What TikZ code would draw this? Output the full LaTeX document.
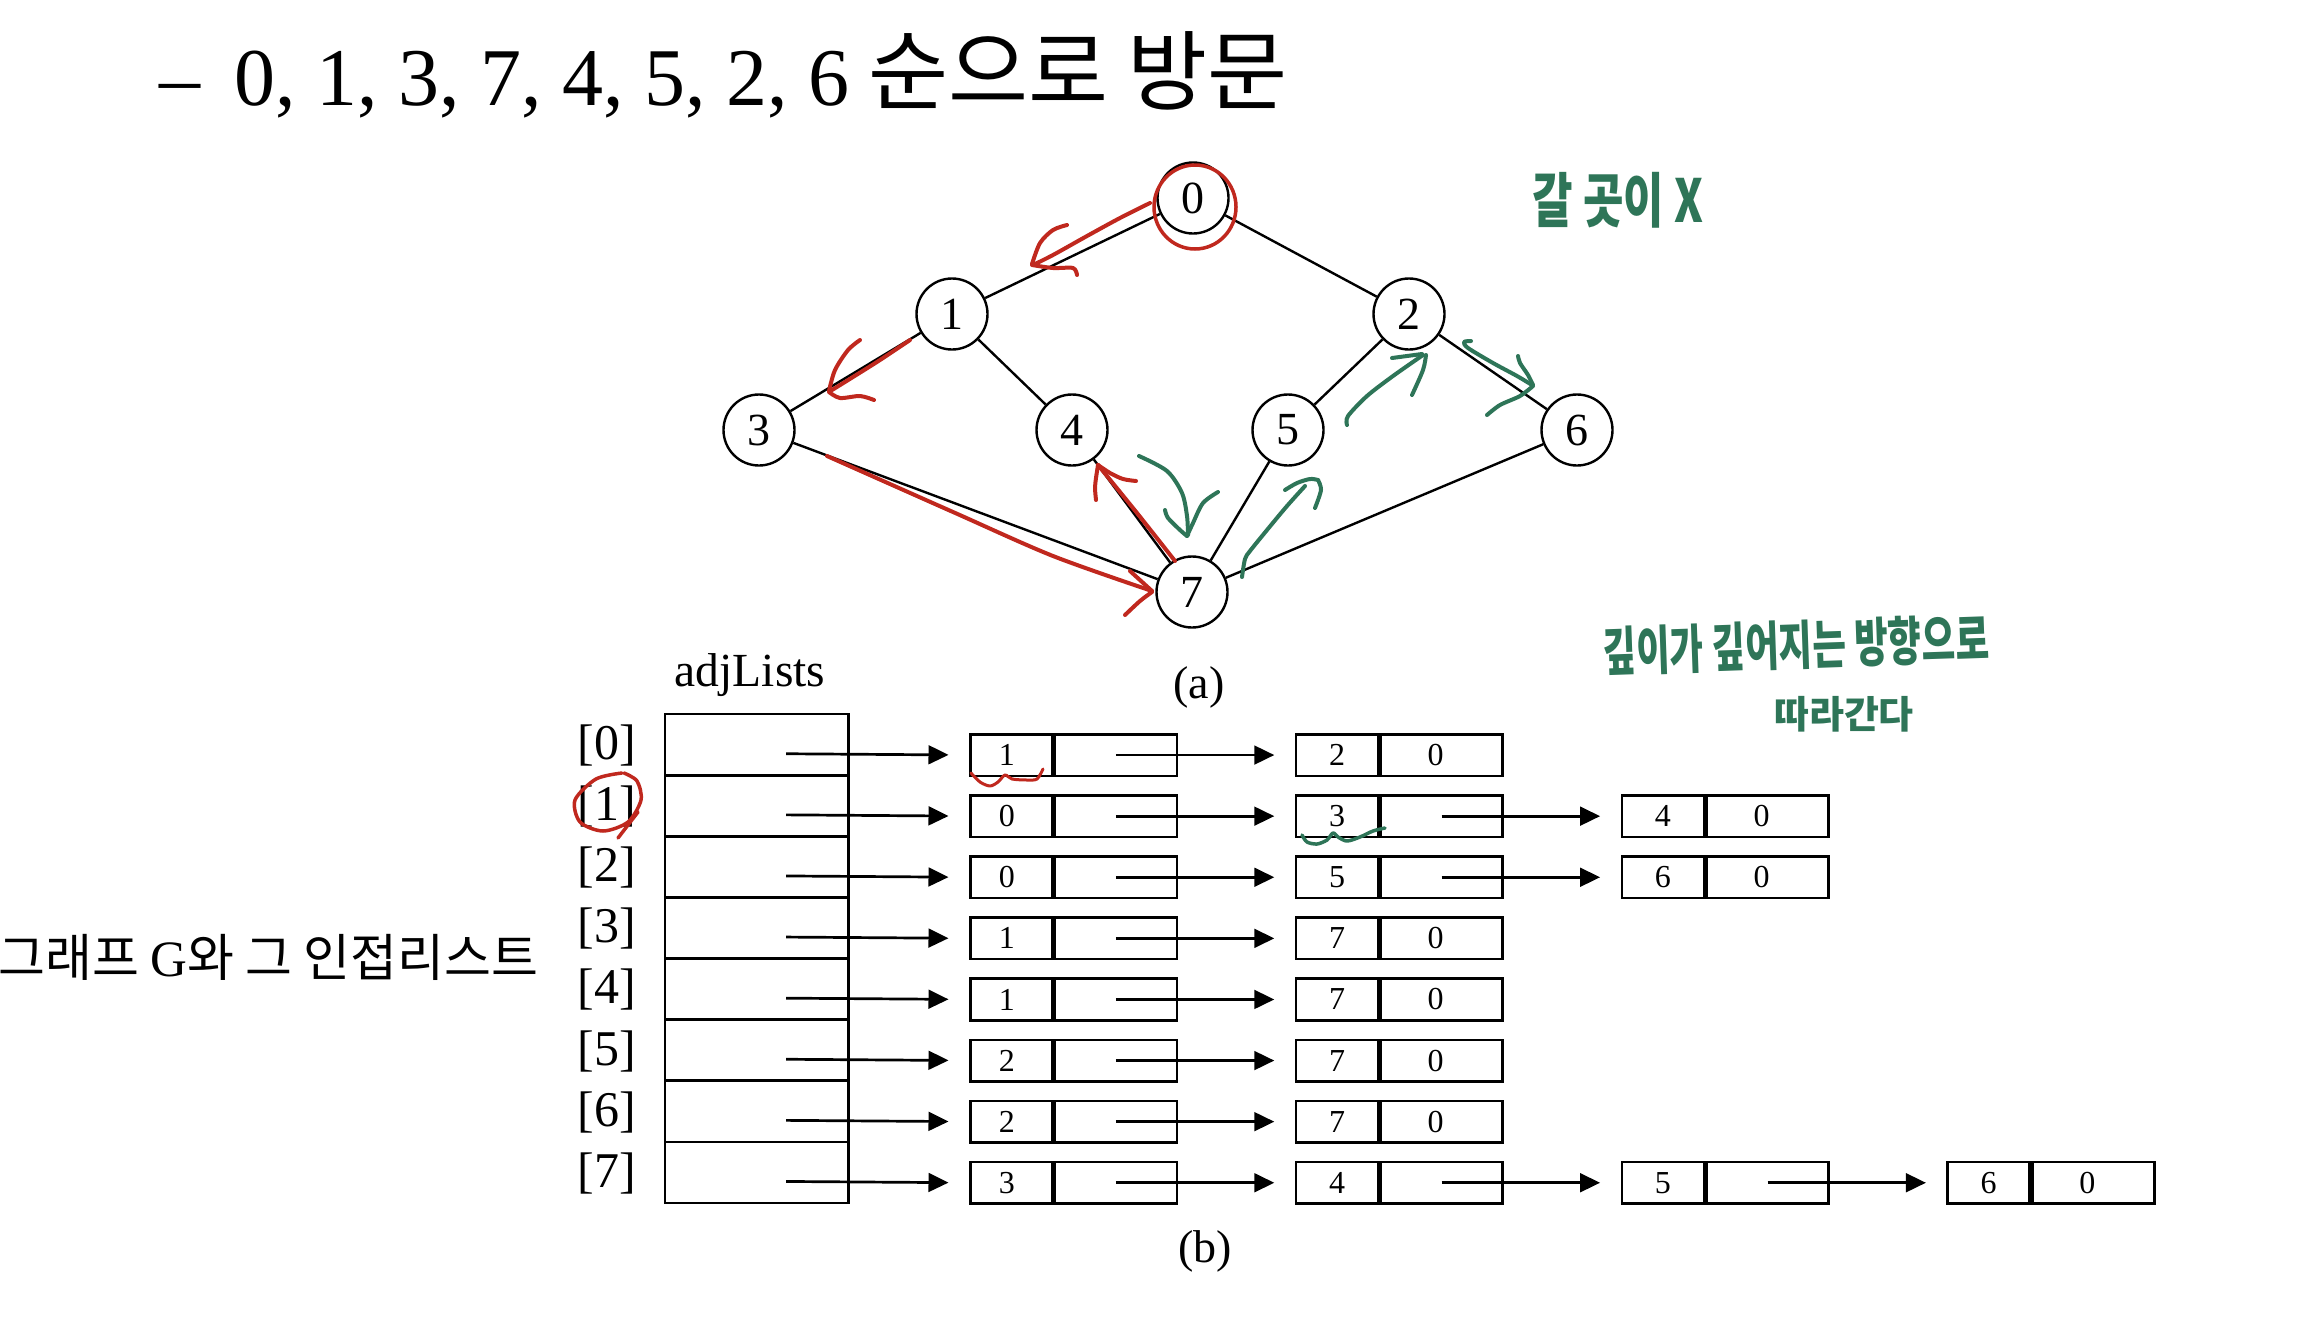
\documentclass[tikz,border=0pt]{standalone}
\usepackage{fontspec}
\usepackage{graphicx}
\setmainfont{Liberation Serif}
\newfontfamily\kor{Noto Sans CJK KR}
\usetikzlibrary{arrows.meta}
\definecolor{penred}{RGB}{192,40,30}
\definecolor{pengreen}{RGB}{46,117,88}
\newcommand\dg[1]{\raisebox{-4pt}{#1}}
\newcommand\vd[1]{\raisebox{-4.5pt}{#1}}
\begin{document}
\begin{tikzpicture}[x=1pt,y=-1pt,
  vtx/.style={circle,draw,line width=2.4pt,minimum size=71pt,inner sep=0pt,font=\fontsize{46}{46}\selectfont},
  edge/.style={line width=2.4pt},
  cell/.style={draw,line width=2.6pt,minimum width=183.5pt,minimum height=61.1pt,inner sep=0pt,anchor=north west},
  dfield/.style={draw,line width=2.6pt,minimum width=82pt,minimum height=41.5pt,inner sep=0pt,anchor=north west,font=\fontsize{32}{32}\selectfont},
  pfield/.style={draw,line width=2.6pt,minimum width=122pt,minimum height=41.5pt,inner sep=0pt,anchor=west,font=\fontsize{32}{32}\selectfont},
  ptr/.style={line width=2.7pt,-{Triangle[length=20pt,width=18.7pt]},shorten >=20.5pt},
  redpen/.style={draw=penred,line width=4pt,line cap=round,line join=round},
  greenpen/.style={draw=pengreen,line width=4pt,line cap=round,line join=round},
  hand/.style={text=pengreen,inner sep=0pt}
]
\fill[white] (0,0) rectangle (2297,1323);
\useasboundingbox (0,0) rectangle (2297,1323);

% title
\node[anchor=base west,inner sep=0pt,font=\fontsize{82}{82}\selectfont] (dash) at (159,105) {–};
\node[anchor=base west,inner sep=0pt,font=\fontsize{82}{82}\selectfont] (seq) at (234,105) {0, 1, 3, 7, 4, 5, 2, 6};
\node[anchor=base west,inner sep=0pt,font=\kor\fontsize{87}{87}\selectfont] (ktitle) at (868,103) {순으로 방문};

% left label
\node[anchor=base west,inner sep=0pt,font=\kor\fontsize{51}{51}\selectfont] (glabel) at (-2,976) {그래프 {\rmfamily G}와 그 인접리스트};

\begin{scope}[yshift=-3pt]
% graph
\node[vtx] (v0) at (1193,195) {\vd{0}};
\node[vtx] (v1) at (952,311) {\vd{1}};
\node[vtx] (v2) at (1409,311) {\vd{2}};
\node[vtx] (v3) at (759,427) {\vd{3}};
\node[vtx] (v4) at (1072,427) {\vd{4}};
\node[vtx] (v5) at (1288,427) {\vd{5}};
\node[vtx] (v6) at (1577,427) {\vd{6}};
\node[vtx] (v7) at (1192,589) {\vd{7}};
\draw[edge] (v0) -- (v1);
\draw[edge] (v0) -- (v2);
\draw[edge] (v1) -- (v3);
\draw[edge] (v1) -- (v4);
\draw[edge] (v2) -- (v5);
\draw[edge] (v2) -- (v6);
\draw[edge] (v3) -- (v7);
\draw[edge] (v4) -- (v7);
\draw[edge] (v5) -- (v7);
\draw[edge] (v6) -- (v7);

% red annotations on graph
\draw[redpen,line width=3.5pt] (1195,204) ellipse [x radius=41pt, y radius=42pt];
\draw[redpen] plot[smooth] coordinates {(1150,200) (1120,215) (1087,233) (1053,252) (1033,262)};
\draw[redpen] plot[smooth] coordinates {(1067,222) (1053,227) (1040,240) (1032,261)};
\draw[redpen] plot[smooth] coordinates {(1032,262) (1053,265) (1073,265) (1077,272)};
\draw[redpen] plot[smooth] coordinates {(910,337) (880,357) (853,374) (832,387)};
\draw[redpen] plot[smooth] coordinates {(860,337) (848,347) (835,367) (829,388)};
\draw[redpen] plot[smooth] coordinates {(829,389) (840,395) (860,393) (874,397)};
\draw[redpen] plot[smooth] coordinates {(827,453) (953,509) (1053,553) (1152,588)};
\draw[redpen] (1130,568) -- (1152,588);
\draw[redpen] plot[smooth] coordinates {(1152,589) (1140,598) (1125,612)};
\draw[redpen] plot[smooth] coordinates {(1175,558) (1137,510) (1098,462)};
\draw[redpen] plot[smooth] coordinates {(1098,462) (1096,475) (1095,485) (1096,497)};
\draw[redpen] plot[smooth] coordinates {(1098,462) (1110,470) (1123,476) (1136,478)};

% green annotations on graph
\draw[greenpen] plot[smooth] coordinates {(1139,453) (1167,468) (1182,490) (1187,513) (1188,532)};
\draw[greenpen] plot[smooth] coordinates {(1165,507) (1168,515) (1180,527) (1187,533)};
\draw[greenpen] plot[smooth] coordinates {(1187,533) (1193,520) (1203,500) (1218,489)};
\draw[greenpen] plot[smooth] coordinates {(1242,574) (1245,556) (1250,548) (1267,527) (1287,503) (1305,483)};
\draw[greenpen] plot[smooth] coordinates {(1285,487) (1297,480) (1310,476) (1318,477)};
\draw[greenpen] plot[smooth] coordinates {(1318,477) (1321,487) (1315,505)};
\draw[greenpen] plot[smooth] coordinates {(1347,422) (1348,413) (1367,393) (1393,373) (1423,352)};
\draw[greenpen] plot[smooth] coordinates {(1392,355) (1407,353) (1422,351)};
\draw[greenpen] plot[smooth] coordinates {(1426,352) (1423,367) (1412,392)};
\draw[greenpen] plot[smooth] coordinates {(1471,338) (1464,339) (1468,345) (1493,360) (1517,373) (1532,382)};
\draw[greenpen] plot[smooth] coordinates {(1518,353) (1520,360) (1528,372) (1533,382)};
\draw[greenpen] plot[smooth] coordinates {(1533,383) (1520,393) (1500,402) (1487,412)};
\end{scope}
\node[anchor=base,font=\fontsize{46}{46}\selectfont] (capa) at (1199,698) {(a)};

% adjacency lists
\node[anchor=base,font=\fontsize{47.5}{47.5}\selectfont] (adjl) at (750,686) {adjLists};
\foreach \i in {0,...,7}{
  \node[cell] (a\i) at (663.5,{712.8+61.1*\i}) {};
  \node[anchor=base,font=\fontsize{50}{50}\selectfont] (lbl\i) at (607,{759.5+61.1*\i}) {[\i]};
  \coordinate (as\i) at (786,{753.75+61.1*\i});
}
\newcommand\lnode[5]{%
  \node[dfield] (d#1#2) at ({969+325.8*#2},{733+61.1*#1}) {\dg{#3}};
  \node[pfield] (p#1#2) at (d#1#2.east) {\dg{#4}};}
\newcommand\lnodezero[3]{%
  \node[dfield] (d#1#2) at ({969+325.8*#2},{733+61.1*#1}) {\dg{#3}};
  \node[pfield] (p#1#2) at (d#1#2.east) {\hspace*{-12pt}\dg{0}};}
\newcommand\lfirst[2]{%
  \node[dfield] (d#10) at (969,{733+61.1*#1}) {\hspace*{-9pt}\dg{#2}};
  \node[pfield] (p#10) at (d#10.east) {};}
\lfirst{0}{1} \lnodezero{0}{1}{2}
\lfirst{1}{0} \lnode{1}{1}{3}{}{} \lnodezero{1}{2}{4}
\lfirst{2}{0} \lnode{2}{1}{5}{}{} \lnodezero{2}{2}{6}
\lfirst{3}{1} \lnodezero{3}{1}{7}
\lfirst{4}{1} \lnodezero{4}{1}{7}
\lfirst{5}{2} \lnodezero{5}{1}{7}
\lfirst{6}{2} \lnodezero{6}{1}{7}
\lfirst{7}{3} \lnode{7}{1}{4}{}{} \lnode{7}{2}{5}{}{} \lnodezero{7}{3}{6}
\foreach \i in {0,...,7}{\draw[ptr] (as\i) -- (d\i0.west);}
\foreach \r/\a/\b in {0/0/1,1/0/1,1/1/2,2/0/1,2/1/2,3/0/1,4/0/1,5/0/1,6/0/1,7/0/1,7/1/2,7/2/3}{
  \draw[ptr] (p\r\a.center) -- (d\r\b.west);}
\node[anchor=base,font=\fontsize{46}{46}\selectfont] (capb) at (1205,1262) {(b)};

% handwritten notes
\node[hand,font=\kor\bfseries\fontsize{44}{44}\selectfont] (h1) at (1618,200) {\scalebox{1}[1.35]{갈 곳이 X}};
\node[hand,font=\kor\bfseries\fontsize{36.5}{36.5}\selectfont,rotate=2] (h2) at (1796,645) {\scalebox{1}[1.45]{깊이가 깊어지는 방향으로}};
\node[hand,font=\kor\bfseries\fontsize{38}{38}\selectfont] (h3) at (1844,714) {따라간다};

% red / green marks on the lists
\draw[redpen,line width=3.5pt] plot[smooth] coordinates {(622,773) (596,779) (575,800) (580,822) (603,831) (628,822) (641,800) (637,781) (624,773)};
\draw[redpen,line width=3.5pt] (638,812) -- (618,838);
\draw[redpen,line width=3pt] plot[smooth] coordinates {(971,773) (980,782) (990,786) (998,782) (1005,775) (1012,779) (1027,780) (1037,779) (1043,769)};
\draw[greenpen,line width=3.5pt] plot[smooth] coordinates {(1302,835) (1307,842) (1317,844) (1327,840) (1333,833) (1338,837) (1347,841) (1360,837) (1373,831) (1385,828)};
\end{tikzpicture}
\end{document}
